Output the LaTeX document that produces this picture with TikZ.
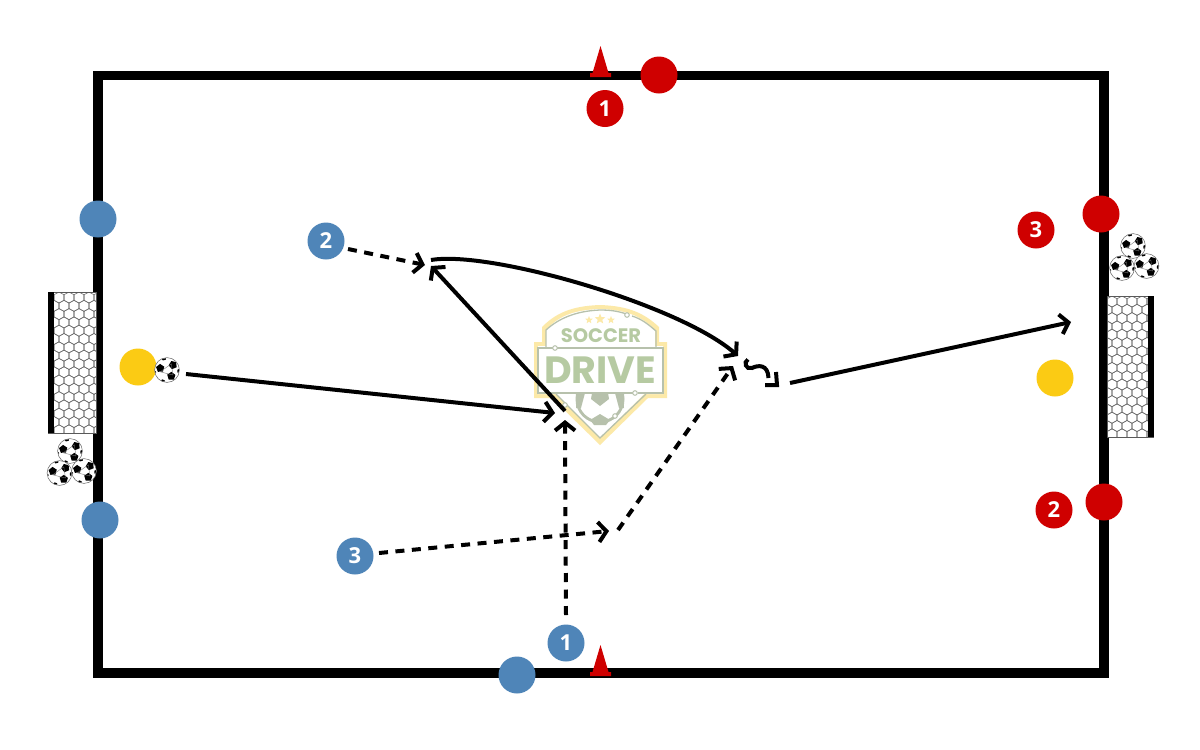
\documentclass[tikz,border=0pt]{standalone}
\usepackage{fontspec}
\setmainfont{Open Sans}
\newfontfamily\logofont{Poppins}
\usetikzlibrary{arrows.meta,shapes.geometric}
\definecolor{pblue}{HTML}{4F85B8}
\definecolor{pred}{HTML}{CF0000}
\definecolor{pyellow}{HTML}{FBCB14}
\definecolor{lyellow}{HTML}{FCE9A8}
\definecolor{lgreen}{HTML}{B6CAA2}
\definecolor{lgrey}{HTML}{B7C1AC}
\tikzset{
  x=1pt,y=-1pt,
  player/.style={circle,minimum size=37pt,inner sep=0pt,text=white,font=\bfseries\fontsize{22}{22}\selectfont},
  blueplayer/.style={player,fill=pblue},
  redplayer/.style={player,fill=pred},
  yellowplayer/.style={player,fill=pyellow},
  tipped/.style={-{Straight Barb[length=8pt,width=20pt,line width=4pt]},line width=4pt},
  run/.style={tipped,dash pattern=on 9pt off 7.5pt},
  pass/.style={tipped},
  goalnet/.style={draw=black!58,line width=0.55pt},
  conemark/.style={fill=pred},
  soccerball/.pic={
    \path[fill=white,draw=black!60,line width=0.5pt] (0,0) circle (12.4);
    \begin{scope}
      \clip (0,0) circle (12);
      \foreach \a/\r/\s in {-55/7.5/4.3,165/7/4.3,40/7.8/4.3,105/12.4/2.6,-110/12.4/2.4,-5/12.4/2.4,-170/12.4/1.4}{
        \fill[black,rotate=\a,shift={(\r,0)}] (72:\s) -- (144:\s) -- (216:\s) -- (288:\s) -- (0:\s) -- cycle;
      }
      \draw[black!55,line width=0.35pt] (-55:7.5) -- (40:7.8) -- (165:7) -- cycle;
    \end{scope}
  }
}
% honeycomb net clipped to a rectangle
\newcommand{\netfill}[4]{%
  \begin{scope}
    \clip (#1,#2) rectangle (#3,#4);
    \foreach \r in {0,...,18}{
      \foreach \c in {-1,...,5}{
        \pgfmathsetmacro{\hx}{#1+\c*10+mod(\r,2)*5}
        \pgfmathsetmacro{\hy}{#2+\r*8.3-1}
        \draw[goalnet] (\hx,\hy+2.75) -- (\hx+5,\hy) -- (\hx+10,\hy+2.75) -- (\hx+10,\hy+8.3) -- (\hx+5,\hy+11.05) -- (\hx,\hy+8.3) -- cycle;
      }
    }
  \end{scope}}
\begin{document}
\begin{tikzpicture}
\useasboundingbox (0,0) rectangle (1200,750);
\fill[white] (0,0) rectangle (1200,750);

% logo
\fill[lyellow] (600,305) .. controls (570,306) and (555,314) .. (542,327) -- (542,342) -- (534,342) -- (534,398) -- (552,398) -- (600,445) -- (648,398) -- (667,398) -- (667,342) -- (659,342) -- (659,327) .. controls (645,314) and (630,306) .. (600,305) -- cycle;
\fill[white] (600,309) .. controls (572,310) and (558,317) .. (546,330) -- (546,346) -- (538,346) -- (538,394) -- (556,394) -- (600,438) -- (644,394) -- (663,394) -- (663,346) -- (655,346) -- (655,330) .. controls (642,317) and (628,310) .. (600,309) -- cycle;
\begin{scope}
  \clip (570,393.5) rectangle (630,430);
  \fill[lgrey] (600,399) circle (24.5);
  \fill[white] (600,399) circle (21.5);
  \fill[lgrey] (592,393) -- (608,393) -- (609,399) -- (600,406) -- (591,399) -- cycle;
  \fill[lgrey] (600,414) -- (610,420) -- (606,425) -- (594,425) -- (590,420) -- cycle;
  \fill[lgrey] (577,392) -- (585,393) -- (581,408) -- (576,408) -- cycle;
  \fill[lgrey] (623,392) -- (615,393) -- (619,408) -- (624,408) -- cycle;
\end{scope}
\draw[lgrey,line width=1.3pt] (625,313.5) .. controls (617,311) and (610,310) .. (600,310) .. controls (575,311) and (558,319) .. (546,330) -- (546,348);
\draw[lgrey,line width=1.3pt] (632,316) .. controls (642,319) and (649,325) .. (656,331) -- (656,348);
\draw[lgrey,line width=1.3pt] (556,394) -- (600,438) -- (646,394);
\draw[lgrey,line width=1.3pt] (557,348) -- (663,348) -- (663,393) -- (638,393);
\draw[lgrey,line width=1.3pt] (633,393) -- (538,393) -- (538,348) -- (553,348);
\draw[lgrey,fill=white,line width=1pt] (555,348) circle (2.3);
\draw[lgrey,fill=white,line width=1pt] (627,315) circle (2.3);
\draw[lgrey,fill=white,line width=1pt] (635,393) circle (2.3);
\draw[lgrey,fill=white,line width=1pt] (565,405) circle (2.3);
\draw[lgrey,fill=white,line width=1pt] (615,416) circle (2.3);
\node[star,star points=5,star point ratio=2.3,fill=lyellow,inner sep=0pt,minimum size=8pt] (logostarl) at (589,320) {};
\node[star,star points=5,star point ratio=2.3,fill=lyellow,inner sep=0pt,minimum size=11pt] (logostarc) at (600,319) {};
\node[star,star points=5,star point ratio=2.3,fill=lyellow,inner sep=0pt,minimum size=8pt] (logostarr) at (611,320) {};
\node[text=lgreen,inner sep=0pt,font=\logofont\bfseries\fontsize{19.5}{19.5}\selectfont] (logotop) at (601,335.5) {SOCCER};
\node[text=lgreen,inner sep=0pt,font=\logofont\bfseries\fontsize{38}{38}\selectfont] (logomain) at (600,370.5) {DRIVE};

% field
\draw[black,line width=9.5pt] (98,75.3) rectangle (1104,673);

% goals
\fill[white] (48,292) rectangle (97,433);
\netfill{54}{293}{96}{433}
\draw[black!65,line width=1pt] (48.5,292.5) rectangle (96.5,433);
\fill[black] (48,292) rectangle (54,433);
\fill[white] (1107,296) rectangle (1154,437);
\netfill{1107}{297}{1148}{437}
\draw[black!65,line width=1pt] (1107.5,296.5) rectangle (1153.5,437);
\fill[black] (1148,296) rectangle (1154,437);

% cones
\path[conemark] (600.5,46) -- (608.5,73) -- (611,73) -- (611,77) -- (590,77) -- (590,73) -- (592.5,73) -- cycle;
\path[conemark] (600.5,645) -- (608.5,672) -- (611,672) -- (611,676) -- (590,676) -- (590,672) -- (592.5,672) -- cycle;

% players
\node[blueplayer] (bw1) at (98,219) {};
\node[blueplayer] (bw2) at (100,520) {};
\node[blueplayer] (bw3) at (517,675) {};
\node[blueplayer] (b1) at (566,643) {1};
\node[blueplayer] (b2) at (326,241) {2};
\node[blueplayer] (b3) at (355,556) {3};
\node[redplayer] (rw1) at (659,75) {};
\node[redplayer] (rw2) at (1101,214) {};
\node[redplayer] (rw3) at (1104,502) {};
\node[redplayer] (r1) at (605,108.5) {1};
\node[redplayer] (r2) at (1054,510) {2};
\node[redplayer] (r3) at (1036,230) {3};
\node[yellowplayer] (yl) at (138,367) {};
\node[yellowplayer] (yr) at (1055,378) {};

% balls
\path (167,370) pic {soccerball};
\path (70,451) pic {soccerball};
\path (59.5,473) pic {soccerball};
\path (84,471) pic {soccerball};
\path (1133,246) pic {soccerball};
\path (1122,268) pic {soccerball};
\path (1146.5,266) pic {soccerball};

% connector ends
\coordinate (pA1) at (186,374);
\coordinate (pA2) at (555,413);
\coordinate (pB1) at (565,411);
\coordinate (pB2) at (431,266);
\coordinate (rA1) at (566,615);
\coordinate (rA2) at (565,420);
\coordinate (rB1) at (348,249);
\coordinate (rB2) at (425,265);
\coordinate (rC1) at (379,553);
\coordinate (rC2) at (609,531);
\coordinate (rD1) at (618,530);
\coordinate (rD2) at (733,366);
\coordinate (cA) at (431,260);
\coordinate (cB) at (738,356);
\coordinate (dA) at (748,359.5);
\coordinate (dB) at (768.5,378);
\coordinate (hA) at (765,385);
\coordinate (hC) at (777,385);
\coordinate (hB) at (776,372);
\coordinate (sA) at (790,383);
\coordinate (sB) at (1071,322);

\draw[pass] (pA1) -- (pA2);
\draw[pass] (pB1) -- (pB2);
\draw[run] (rA1) -- (rA2);
\draw[run] (rB1) -- (rB2);
\draw[run] (rC1) -- (rC2);
\draw[run] (rD1) -- (rD2);
\draw[pass] (cA) .. controls (490,250) and (680,305) .. (cB);
\draw[line width=4pt] (dA) .. controls (743,362) and (746,370) .. (752,368) .. controls (758,365) and (768,364) .. (dB);
\draw[line width=4pt,miter limit=10] (hA) -- (hC) -- (hB);
\draw[pass] (sA) -- (sB);
\end{tikzpicture}
\end{document}
